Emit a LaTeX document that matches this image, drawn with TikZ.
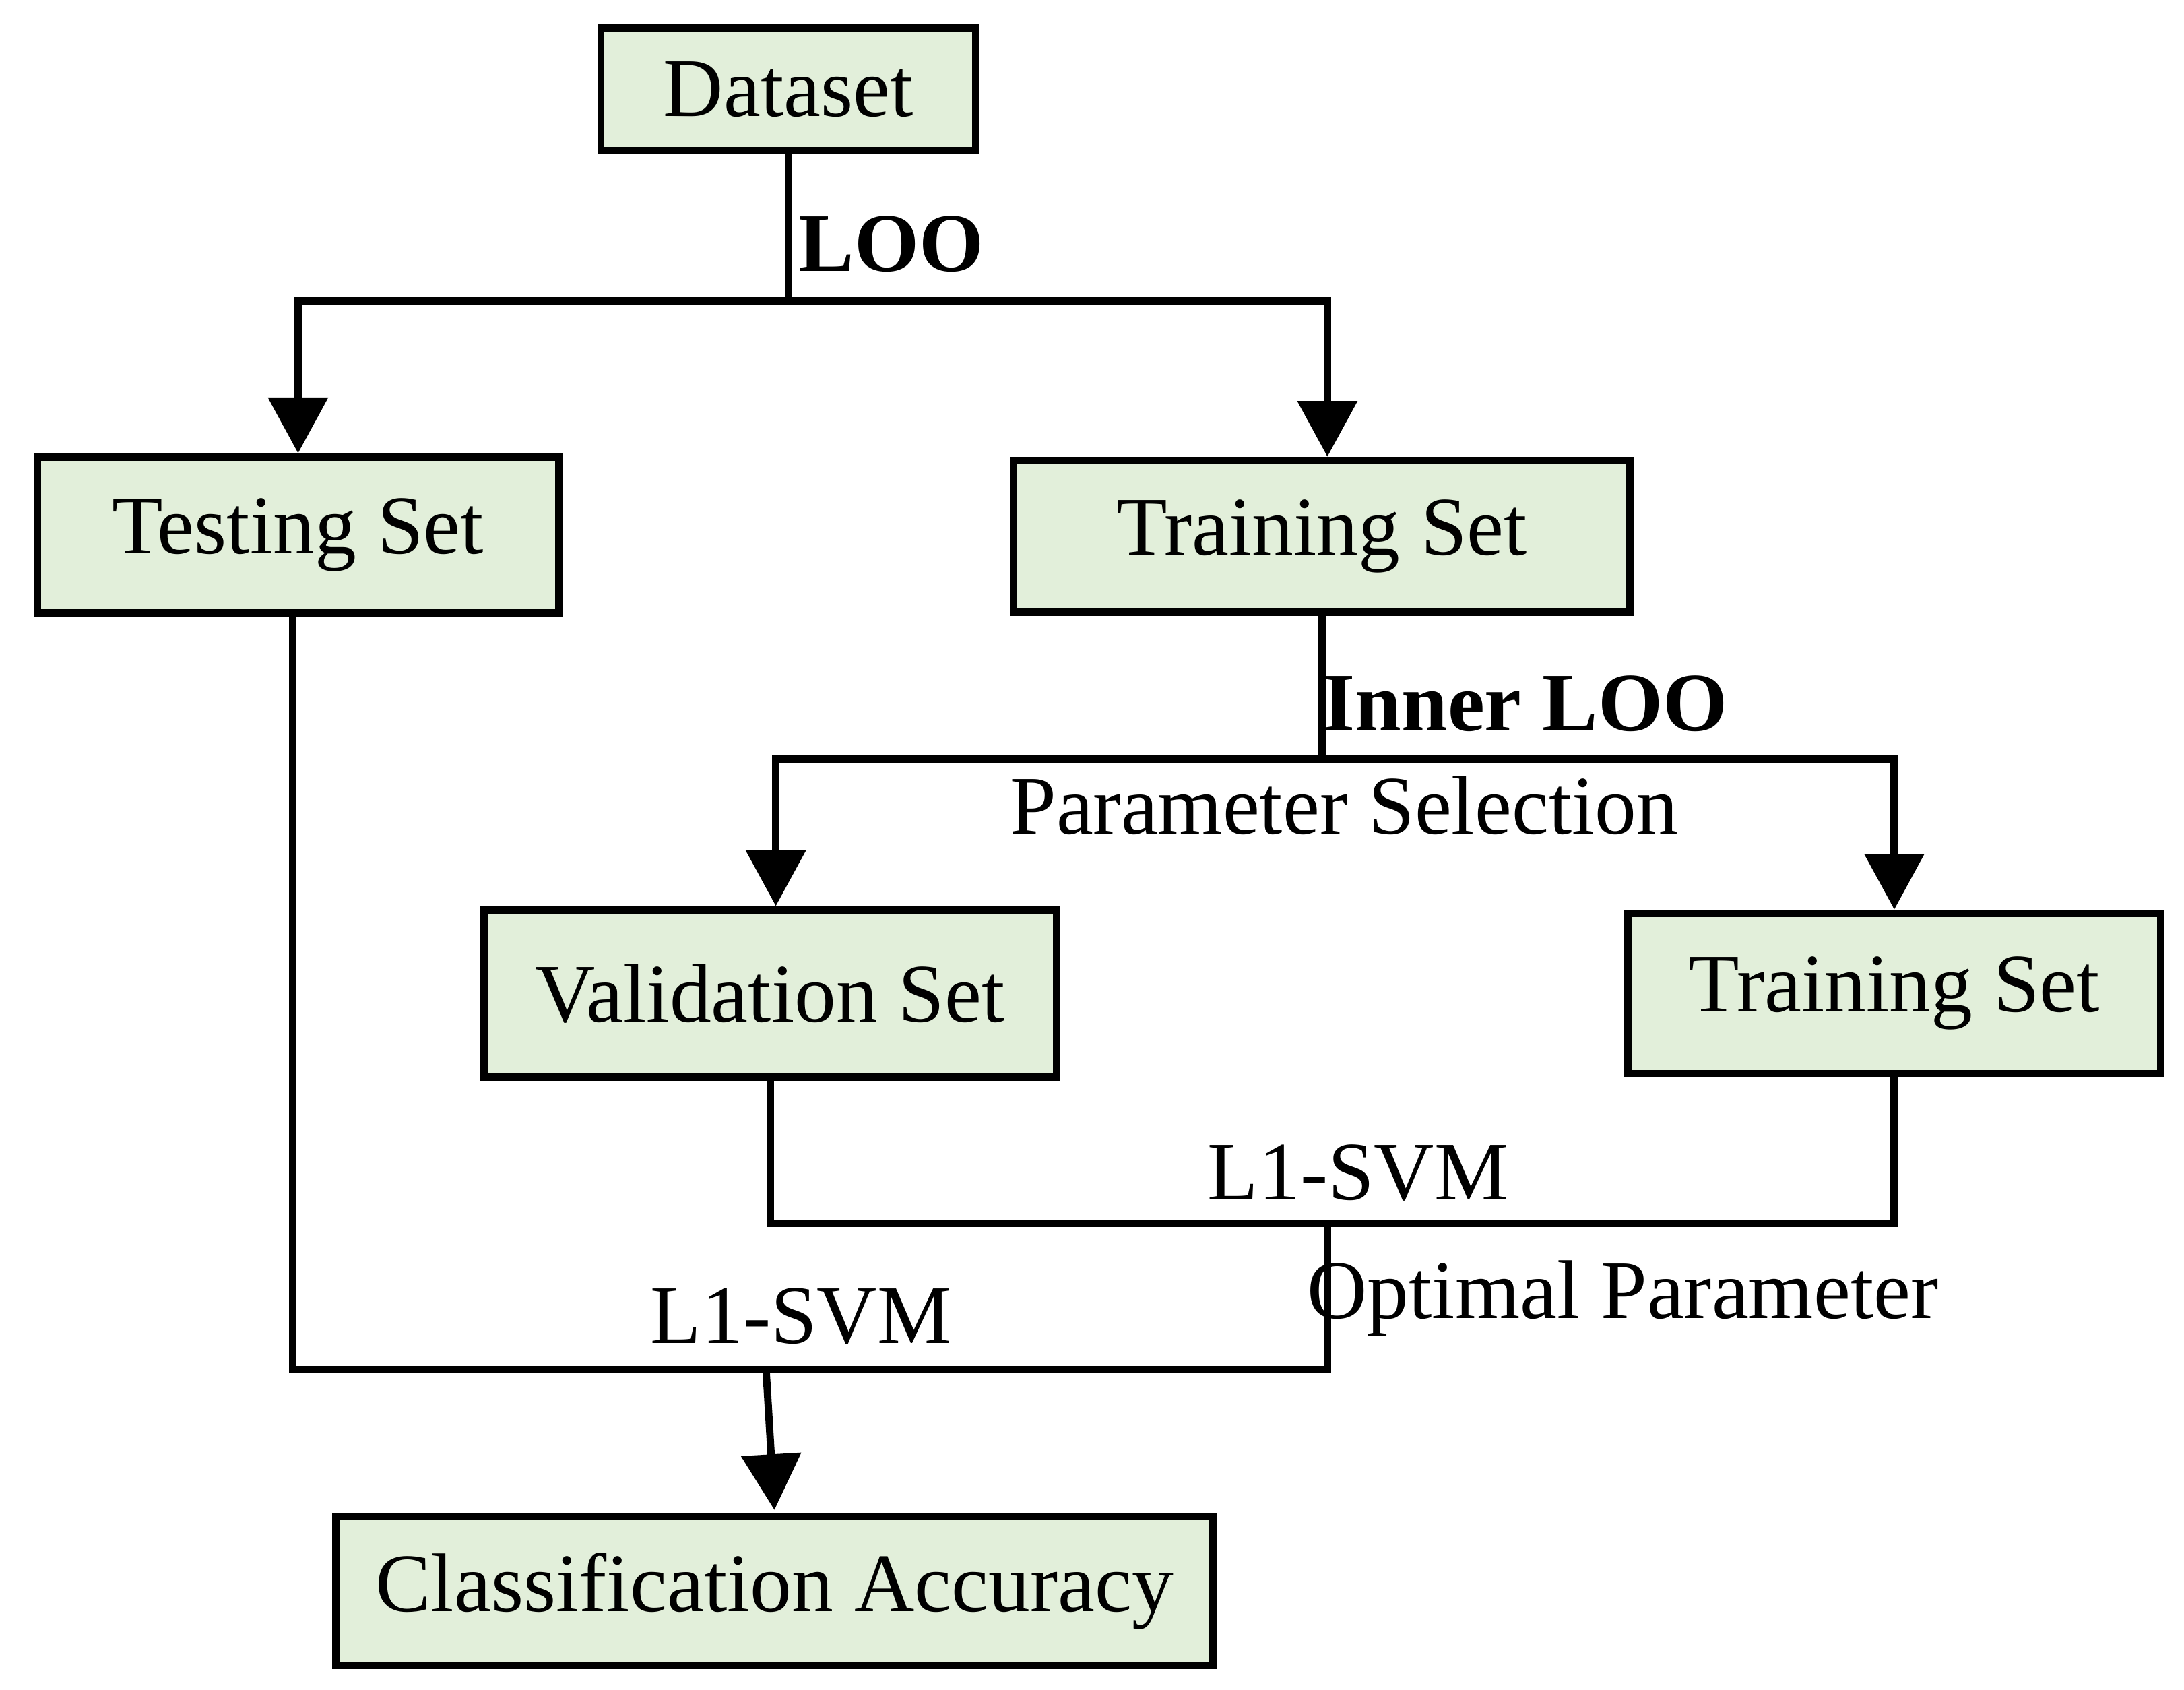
\documentclass[tikz,border=0pt]{standalone}
\usepackage{fontspec}
\setmainfont{Liberation Serif}
\usetikzlibrary{arrows.meta}
\definecolor{boxfill}{HTML}{E2EFDA}
\begin{document}
\begin{tikzpicture}[x=0.01cm,y=-0.01cm,
	box/.style={draw=black,line width=1.5pt,fill=boxfill,inner sep=0pt,font=\fontsize{17}{20}\selectfont},
	lbl/.style={font=\fontsize{17}{20}\selectfont,inner sep=0pt},
	link/.style={line width=1.5pt},
	arr/.style={link,-{Triangle[length=0.4cm,width=0.42cm]}}]
	\useasboundingbox (0,0) rectangle (1568,1213);
	% boxes
	\node[box,minimum width=2.69cm,minimum height=0.88cm] (data) at (566,64) {Dataset};
	\node[box,minimum width=3.74cm,minimum height=1.12cm] (test) at (214,384) {Testing Set};
	\node[box,minimum width=4.42cm,minimum height=1.09cm] (train) at (949,385) {Training Set};
	\node[box,minimum width=4.11cm,minimum height=1.2cm] (valid) at (553,713) {Validation Set};
	\node[box,minimum width=3.82cm,minimum height=1.15cm] (train2) at (1360,713) {Training Set};
	\node[box,minimum width=6.29cm,minimum height=1.07cm] (acc) at (556,1142) {Classification Accuracy};
	% junctions
	\coordinate (s1) at (566,216);
	\coordinate (s2) at (949,545);
	\coordinate (j1) at (953,878);
	\coordinate (j2) at (550,983);
	% connectors
	\draw[link] (data) -- (s1);
	\draw[arr] (s1) -| (test.north);
	\draw[arr] (s1) -| ([xshift=0.04cm]train.north);
	\draw[link] (train) -- (s2);
	\draw[arr] (s2) -| ([xshift=0.04cm]valid.north);
	\draw[arr] (s2) -| (train2.north);
	\draw[link] (valid.south) |- (j1) -| (train2.south);
	\draw[link] (j1) |- (j2) -| ([xshift=-0.04cm]test.south);
	\draw[arr] (j2) -- ([yshift=0.02cm]acc.north);
	% labels
	\node[lbl,font=\fontsize{17}{20}\selectfont\bfseries] at (640,175) {LOO};
	\node[lbl,font=\fontsize{17}{20}\selectfont\bfseries] at (1095,505) {Inner LOO};
	\node[lbl] at (965,578) {Parameter Selection};
	\node[lbl] at (975,842) {L1-SVM};
	\node[lbl] at (1165,932) {Optimal Parameter};
	\node[lbl] at (575,945) {L1-SVM};
\end{tikzpicture}
\end{document}
